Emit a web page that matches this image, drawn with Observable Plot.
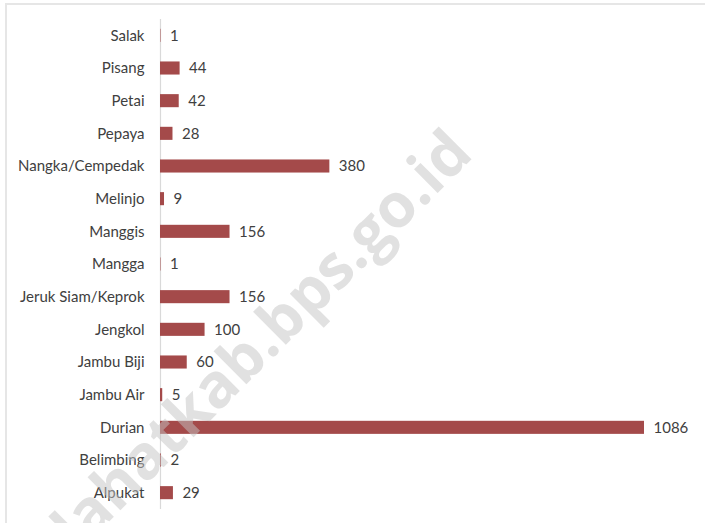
<!DOCTYPE html>
<html>
<head>
<meta charset="utf-8">
<script src="https://cdn.jsdelivr.net/npm/d3@7"></script>
<script src="https://cdn.jsdelivr.net/npm/@observablehq/plot@0.6"></script>
<style>
  html, body { margin: 0; padding: 0; background: #fff; }
  #wrap { position: relative; width: 705px; height: 523px; overflow: hidden; }
  #border { position: absolute; left: 5px; top: 3px; width: 760px; height: 600px;
            border-top: 2px solid #e6e6e6; border-left: 2px solid #e6e6e6; box-sizing: border-box; }
  #chart { position: absolute; left: 0; top: 0; }
</style>
</head>
<body>
<div id="wrap"><div id="border"></div><div id="chart"></div></div>
<script>
const categories = ["Salak", "Pisang", "Petai", "Pepaya", "Nangka/Cempedak", "Melinjo", "Manggis", "Mangga",
  "Jeruk Siam/Keprok", "Jengkol", "Jambu Biji", "Jambu Air", "Durian", "Belimbing", "Alpukat"];
const values = [1, 44, 42, 28, 380, 9, 156, 1, 156, 100, 60, 5, 1086, 2, 29];
const watermark = ["lahatkab.bps.go.id"];

const data = categories.map((c, i) => ({category: c, value: values[i]}));

const chart = Plot.plot({
  width: 705,
  height: 523,
  marginLeft: 160,
  marginRight: 61,
  marginTop: 19,
  marginBottom: 14,
  style: {fontFamily: "Lato, 'Open Sans', sans-serif", fontSize: "15px", color: "#404040", background: "transparent"},
  x: {domain: [0, 1086], axis: null},
  y: {domain: categories, paddingInner: 0.6, paddingOuter: 0.3, round: false, label: null, tickSize: 0, tickPadding: 16},
  marks: [
    Plot.ruleX([0], {stroke: "#d9d9d9", strokeWidth: 1.2}),
    Plot.barX(data, {x: "value", y: "category", fill: "#a44a4a"}),
    Plot.text(data, {x: "value", y: "category", text: d => String(d.value), textAnchor: "start", dx: 9,
      fill: "#404040", fontSize: 15}),
    Plot.axisY({tickSize: 0, tickPadding: 16, fontSize: 15, color: "#404040", label: null}),
    Plot.text(watermark, {frameAnchor: "middle", dx: -140, dy: 76, rotate: -45, text: d => d,
      fontSize: 61, fontWeight: "bold", fill: "#c4c4c4", fillOpacity: 0.5, fontFamily: "'Open Sans', sans-serif"})
  ]
});
document.getElementById("chart").appendChild(chart);
</script>
</body>
</html>
